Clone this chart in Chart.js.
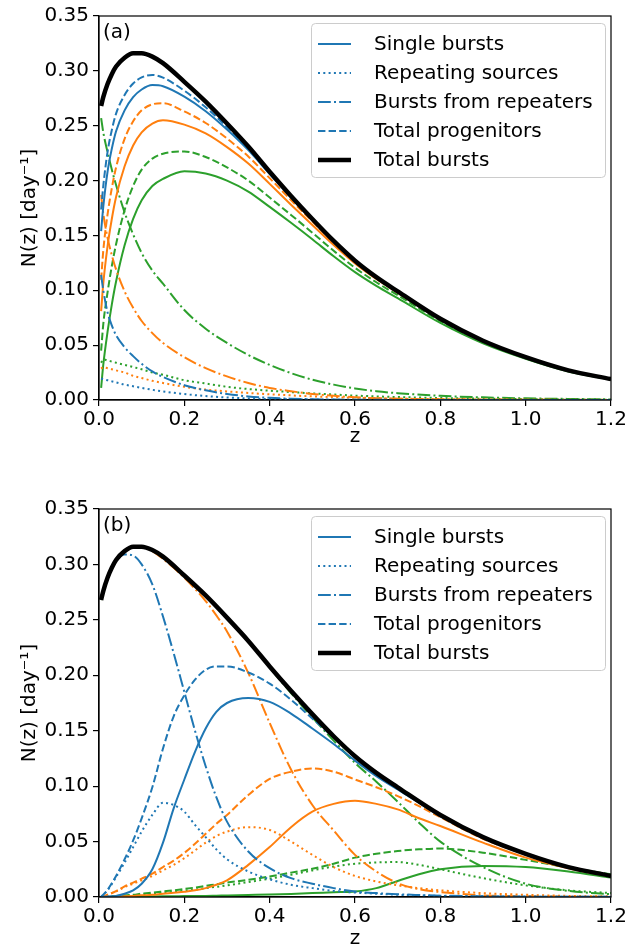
<!DOCTYPE html>
<html>
<head>
<meta charset="utf-8">
<script src="https://cdn.jsdelivr.net/npm/chart.js@4.4.1/dist/chart.umd.min.js"></script>
<style>
  html, body { margin: 0; padding: 0; background: #fff; }
  canvas { display: block; }
</style>
</head>
<body>
<canvas id="panelA" width="644" height="474"></canvas>
<canvas id="panelB" width="644" height="475"></canvas>
<script>
// redshift grids
const zA = [0.005, 0.01, 0.02, 0.03, 0.04, 0.06, 0.08, 0.1, 0.125, 0.15, 0.2, 0.25, 0.3, 0.35, 0.4, 0.45, 0.5, 0.55, 0.6, 0.65, 0.7, 0.8, 0.9, 1.0, 1.1, 1.2];
const zB = [0.005, 0.02, 0.04, 0.06, 0.08, 0.1, 0.125, 0.15, 0.175, 0.2, 0.225, 0.25, 0.275, 0.3, 0.35, 0.4, 0.45, 0.5, 0.55, 0.6, 0.65, 0.7, 0.75, 0.8, 0.9, 1.0, 1.1, 1.2];

const xTicks = [0, 0.2, 0.4, 0.6, 0.8, 1.0, 1.2];
const yTicks = [0, 0.05, 0.10, 0.15, 0.20, 0.25, 0.30, 0.35];
const legendLabels = ["Single bursts", "Repeating sources", "Bursts from repeaters", "Total progenitors", "Total bursts"];

// total bursts (same curve in both panels), on zA
const totalBursts = [0.268, 0.276, 0.288, 0.297, 0.304, 0.312, 0.316, 0.316, 0.313, 0.307, 0.290, 0.272, 0.252, 0.231, 0.208, 0.186, 0.165, 0.145, 0.127, 0.112, 0.099, 0.074, 0.054, 0.039, 0.027, 0.019];

// panel (a), on zA
const singleBlueA = [0.154, 0.176, 0.208, 0.229, 0.245, 0.264, 0.276, 0.283, 0.287, 0.286, 0.2765, 0.2632, 0.2465, 0.2277, 0.206, 0.1848, 0.1643, 0.1446, 0.1267, 0.1118, 0.0989, 0.0739, 0.0539, 0.0389, 0.0269, 0.0189];
const repSrcBlueA = [0.0196, 0.019, 0.018, 0.017, 0.016, 0.014, 0.0125, 0.011, 0.0093, 0.0078, 0.0054, 0.0036, 0.0023, 0.0014, 0.0009, 0.0006, 0.0004, 0.0003, 0.0002, 0.0001, 0.0001, 0.0001, 0.0001, 0.0001, 0.0001, 0.0001];
const fromRepBlueA = [0.114, 0.100, 0.080, 0.068, 0.059, 0.048, 0.040, 0.033, 0.026, 0.021, 0.0135, 0.0088, 0.0055, 0.0033, 0.002, 0.0012, 0.0007, 0.0004, 0.0003, 0.0002, 0.0001, 0.0001, 0.0001, 0.0001, 0.0001, 0.0001];
const progBlueA = [0.1736, 0.195, 0.226, 0.246, 0.261, 0.278, 0.2885, 0.294, 0.2963, 0.2938, 0.2819, 0.2668, 0.2488, 0.2291, 0.2069, 0.1854, 0.1647, 0.1449, 0.1269, 0.1119, 0.099, 0.074, 0.054, 0.039, 0.027, 0.019];

const singleOrangeA = [0.081, 0.106, 0.140, 0.165, 0.185, 0.213, 0.232, 0.244, 0.252, 0.255, 0.251, 0.243, 0.2305, 0.2155, 0.197, 0.178, 0.1595, 0.1412, 0.1245, 0.1103, 0.0978, 0.0734, 0.0537, 0.0388, 0.0269, 0.0189];
const repSrcOrangeA = [0.0286, 0.030, 0.029, 0.028, 0.027, 0.025, 0.022, 0.020, 0.0175, 0.0155, 0.012, 0.0095, 0.0078, 0.0064, 0.0052, 0.0042, 0.0033, 0.0026, 0.002, 0.0016, 0.0012, 0.0008, 0.0005, 0.0003, 0.0002, 0.0001];
const fromRepOrangeA = [0.187, 0.170, 0.148, 0.132, 0.119, 0.099, 0.084, 0.072, 0.061, 0.052, 0.039, 0.029, 0.0215, 0.0155, 0.011, 0.008, 0.0055, 0.0038, 0.0025, 0.0017, 0.0012, 0.0006, 0.0003, 0.0002, 0.0001, 0.0001];
const progOrangeA = [0.1096, 0.136, 0.169, 0.193, 0.212, 0.238, 0.254, 0.264, 0.2695, 0.2705, 0.263, 0.2525, 0.2383, 0.2219, 0.2022, 0.1822, 0.1628, 0.1438, 0.1265, 0.1119, 0.099, 0.0742, 0.0542, 0.0391, 0.0271, 0.019];

const singleGreenA = [0.011, 0.032, 0.062, 0.087, 0.108, 0.141, 0.165, 0.182, 0.195, 0.2015, 0.2085, 0.2065, 0.200, 0.190, 0.176, 0.1615, 0.1465, 0.131, 0.1165, 0.104, 0.0928, 0.0702, 0.0516, 0.0375, 0.026, 0.0185];
const repSrcGreenA = [0.034, 0.037, 0.036, 0.035, 0.034, 0.032, 0.030, 0.028, 0.025, 0.023, 0.018, 0.015, 0.012, 0.010, 0.0085, 0.0072, 0.006, 0.005, 0.004, 0.0033, 0.0027, 0.0018, 0.0012, 0.0008, 0.0005, 0.0003];
const fromRepGreenA = [0.257, 0.244, 0.226, 0.210, 0.196, 0.171, 0.151, 0.134, 0.118, 0.106, 0.082, 0.065, 0.052, 0.041, 0.032, 0.0245, 0.0185, 0.014, 0.0105, 0.008, 0.0062, 0.0038, 0.0024, 0.0015, 0.001, 0.0005];
const progGreenA = [0.045, 0.069, 0.098, 0.122, 0.142, 0.173, 0.195, 0.210, 0.220, 0.2245, 0.2265, 0.2215, 0.212, 0.200, 0.1845, 0.1687, 0.1525, 0.136, 0.1205, 0.1073, 0.0955, 0.072, 0.0528, 0.0383, 0.0265, 0.0188];

// panel (b), on zB
const singleBlueB = [0, 0.0005, 0.001, 0.003, 0.006, 0.012, 0.025, 0.049, 0.080, 0.106, 0.131, 0.152, 0.167, 0.175, 0.1795, 0.176, 0.1655, 0.152, 0.138, 0.123, 0.109, 0.097, 0.085, 0.073, 0.0535, 0.0385, 0.0268, 0.0188];
const repSrcBlueB = [0, 0.006, 0.018, 0.031, 0.045, 0.059, 0.074, 0.085, 0.083, 0.077, 0.065, 0.054, 0.043, 0.034, 0.023, 0.016, 0.011, 0.008, 0.0055, 0.004, 0.003, 0.002, 0.0015, 0.001, 0.0006, 0.0004, 0.0002, 0.0001];
const fromRepBlueB = [0.268, 0.288, 0.303, 0.309, 0.308, 0.300, 0.282, 0.253, 0.220, 0.185, 0.150, 0.118, 0.090, 0.068, 0.041, 0.026, 0.017, 0.012, 0.008, 0.005, 0.0035, 0.0025, 0.0018, 0.0012, 0.0006, 0.0003, 0.0002, 0.0001];
const progBlueB = [0, 0.0065, 0.019, 0.034, 0.051, 0.071, 0.099, 0.134, 0.163, 0.182, 0.196, 0.205, 0.208, 0.208, 0.2025, 0.1925, 0.178, 0.161, 0.144, 0.1265, 0.112, 0.099, 0.0865, 0.074, 0.054, 0.039, 0.027, 0.019];

const singleOrangeB = [0, 0, 0.0003, 0.0006, 0.001, 0.0015, 0.002, 0.003, 0.0038, 0.0048, 0.006, 0.008, 0.011, 0.015, 0.029, 0.045, 0.063, 0.077, 0.084, 0.0868, 0.084, 0.079, 0.071, 0.064, 0.049, 0.0355, 0.026, 0.0186];
const repSrcOrangeB = [0, 0.002, 0.005, 0.009, 0.012, 0.015, 0.019, 0.024, 0.029, 0.035, 0.042, 0.049, 0.055, 0.059, 0.063, 0.0605, 0.050, 0.038, 0.027, 0.019, 0.014, 0.0105, 0.008, 0.006, 0.0035, 0.002, 0.001, 0.0006];
const fromRepOrangeB = [0.268, 0.288, 0.304, 0.312, 0.316, 0.316, 0.312, 0.305, 0.297, 0.288, 0.278, 0.267, 0.254, 0.2395, 0.202, 0.157, 0.115, 0.083, 0.060, 0.038, 0.023, 0.0125, 0.007, 0.0045, 0.0015, 0.0006, 0.0003, 0.0001];
const progOrangeB = [0, 0.002, 0.0053, 0.0096, 0.013, 0.0165, 0.021, 0.027, 0.0328, 0.0398, 0.048, 0.057, 0.066, 0.074, 0.092, 0.1065, 0.113, 0.116, 0.113, 0.106, 0.099, 0.091, 0.082, 0.072, 0.0525, 0.0385, 0.027, 0.019];

const singleGreenB = [0, 0, 0.0001, 0.0002, 0.0003, 0.0004, 0.0005, 0.0006, 0.0007, 0.0008, 0.0009, 0.001, 0.0012, 0.0014, 0.0018, 0.0022, 0.0028, 0.0035, 0.0043, 0.005, 0.008, 0.0145, 0.0205, 0.025, 0.028, 0.027, 0.023, 0.0176];
const repSrcGreenB = [0, 0.0003, 0.0008, 0.0012, 0.0017, 0.0022, 0.003, 0.0038, 0.0047, 0.0057, 0.0067, 0.008, 0.0092, 0.0105, 0.0135, 0.0165, 0.020, 0.024, 0.0275, 0.030, 0.0312, 0.0315, 0.029, 0.025, 0.017, 0.0105, 0.006, 0.0036];
const fromRepGreenB = [0.268, 0.288, 0.304, 0.312, 0.316, 0.316, 0.313, 0.307, 0.299, 0.290, 0.281, 0.272, 0.262, 0.252, 0.231, 0.207, 0.184, 0.162, 0.141, 0.121, 0.104, 0.086, 0.067, 0.050, 0.027, 0.012, 0.0055, 0.0025];
const progGreenB = [0, 0.0004, 0.001, 0.0015, 0.002, 0.003, 0.004, 0.005, 0.006, 0.0072, 0.0085, 0.010, 0.0115, 0.013, 0.0155, 0.0185, 0.022, 0.0255, 0.030, 0.0355, 0.039, 0.0415, 0.043, 0.0437, 0.040, 0.0335, 0.0265, 0.0205];

const BLUE = "#1f77b4", ORANGE = "#ff7f0e", GREEN = "#2ca02c";
const LW = 2;
const DASH = {
  solid: [],
  dotted: [2, 3.3],
  dashdot: [12.8, 3.2, 2, 3.2],
  dashed: [7.4, 3.2],
};
const FONT = "'DejaVu Sans', sans-serif";

Chart.defaults.font.family = FONT;
Chart.defaults.font.size = 20;
Chart.defaults.color = "#000";

function pts(zs, ys) {
  return zs.map((z, i) => ({ x: z, y: ys[i] }));
}

function line(zs, ys, color, style, width) {
  return {
    data: pts(zs, ys),
    borderColor: color,
    borderWidth: width || LW,
    borderDash: DASH[style],
    pointRadius: 0,
    fill: false,
    cubicInterpolationMode: "monotone",
  };
}

// first dataset is painted last, so black goes first
function panelDatasets(zs, s) {
  return [
    line(zA, totalBursts, "#000", "solid", 4.5),
    line(zs, s[0], BLUE, "solid"), line(zs, s[1], BLUE, "dotted"), line(zs, s[2], BLUE, "dashdot"), line(zs, s[3], BLUE, "dashed"),
    line(zs, s[4], ORANGE, "solid"), line(zs, s[5], ORANGE, "dotted"), line(zs, s[6], ORANGE, "dashdot"), line(zs, s[7], ORANGE, "dashed"),
    line(zs, s[8], GREEN, "solid"), line(zs, s[9], GREEN, "dotted"), line(zs, s[10], GREEN, "dashdot"), line(zs, s[11], GREEN, "dashed"),
  ];
}

const framePlugin = {
  id: "frame",
  afterDatasetsDraw(chart) {
    const { ctx, chartArea: a } = chart;
    ctx.save();
    ctx.strokeStyle = "#000";
    ctx.lineWidth = 1.2;
    ctx.strokeRect(a.left, a.top, a.right - a.left, a.bottom - a.top);
    ctx.restore();
  },
};

const panelLegend = {
  id: "panelLegend",
  afterDraw(chart, args, opts) {
    const { ctx, chartArea: a } = chart;
    ctx.save();
    // panel tag
    ctx.font = "20px " + FONT;
    ctx.fillStyle = "#000";
    ctx.textBaseline = "middle";
    ctx.textAlign = "left";
    ctx.fillText(opts.tag, a.left + 4, a.top + 17);
    // legend box
    const bx = a.left + 212, by = a.top + 7, bw = a.right - 6 - bx, bh = 154;
    ctx.beginPath();
    ctx.roundRect(bx + 0.5, by + 0.5, bw, bh, 4);
    ctx.fillStyle = "rgba(255,255,255,0.8)";
    ctx.fill();
    ctx.strokeStyle = "#cccccc";
    ctx.lineWidth = 1;
    ctx.stroke();
    const styles = ["solid", "dotted", "dashdot", "dashed", "solid"];
    legendLabels.forEach((label, i) => {
      const y = by + 21 + i * 29;
      ctx.beginPath();
      ctx.setLineDash(DASH[styles[i]]);
      ctx.strokeStyle = i === 4 ? "#000" : BLUE;
      ctx.lineWidth = i === 4 ? 4.5 : LW;
      ctx.moveTo(bx + 7, y);
      ctx.lineTo(bx + 40, y);
      ctx.stroke();
      ctx.setLineDash([]);
      ctx.fillStyle = "#000";
      ctx.fillText(label, bx + 63, y + 1);
    });
    ctx.restore();
  },
};

function makeChart(id, datasets, tag, topPad, axisHeight, titlePad) {
  return new Chart(document.getElementById(id), {
    type: "line",
    data: { datasets },
    options: {
      responsive: false,
      animation: false,
      layout: { padding: { top: topPad, right: 33, left: 0, bottom: 0 } },
      plugins: { legend: { display: false }, tooltip: { enabled: false }, panelLegend: { tag } },
      scales: {
        x: {
          type: "linear", min: 0, max: 1.2,
          afterBuildTicks: (s) => { s.ticks = xTicks.map((v) => ({ value: v })); },
          afterFit: (s) => { s.height = axisHeight; },
          ticks: { callback: (v) => v.toFixed(1), padding: 2, maxRotation: 0, autoSkip: false },
          grid: { drawOnChartArea: false, tickLength: 6, color: "#000", lineWidth: 1.2 },
          border: { color: "#000", width: 1.2 },
          title: { display: true, text: "z", font: { size: 20, lineHeight: 1 }, padding: { top: 0, bottom: titlePad } },
        },
        y: {
          type: "linear", min: 0, max: 0.35,
          afterBuildTicks: (s) => { s.ticks = yTicks.map((v) => ({ value: v })); },
          afterFit: (s) => { s.width = 99; },
          ticks: { callback: (v) => v.toFixed(2), padding: 4, autoSkip: false },
          grid: { drawOnChartArea: false, tickLength: 6, color: "#000", lineWidth: 1.2 },
          border: { color: "#000", width: 1.2 },
          title: { display: true, text: "N(z) [day\u207B\u00B9]", font: { size: 20, lineHeight: 1 }, padding: { top: 20, bottom: 0 } },
        },
      },
    },
    plugins: [framePlugin, panelLegend],
  });
}

makeChart("panelA", panelDatasets(zA, [
  singleBlueA, repSrcBlueA, fromRepBlueA, progBlueA,
  singleOrangeA, repSrcOrangeA, fromRepOrangeA, progOrangeA,
  singleGreenA, repSrcGreenA, fromRepGreenA, progGreenA,
]), "(a)", 12, 74, 27);

makeChart("panelB", panelDatasets(zB, [
  singleBlueB, repSrcBlueB, fromRepBlueB, progBlueB,
  singleOrangeB, repSrcOrangeB, fromRepOrangeB, progOrangeB,
  singleGreenB, repSrcGreenB, fromRepGreenB, progGreenB,
]), "(b)", 35, 52, 0);
</script>
</body>
</html>
